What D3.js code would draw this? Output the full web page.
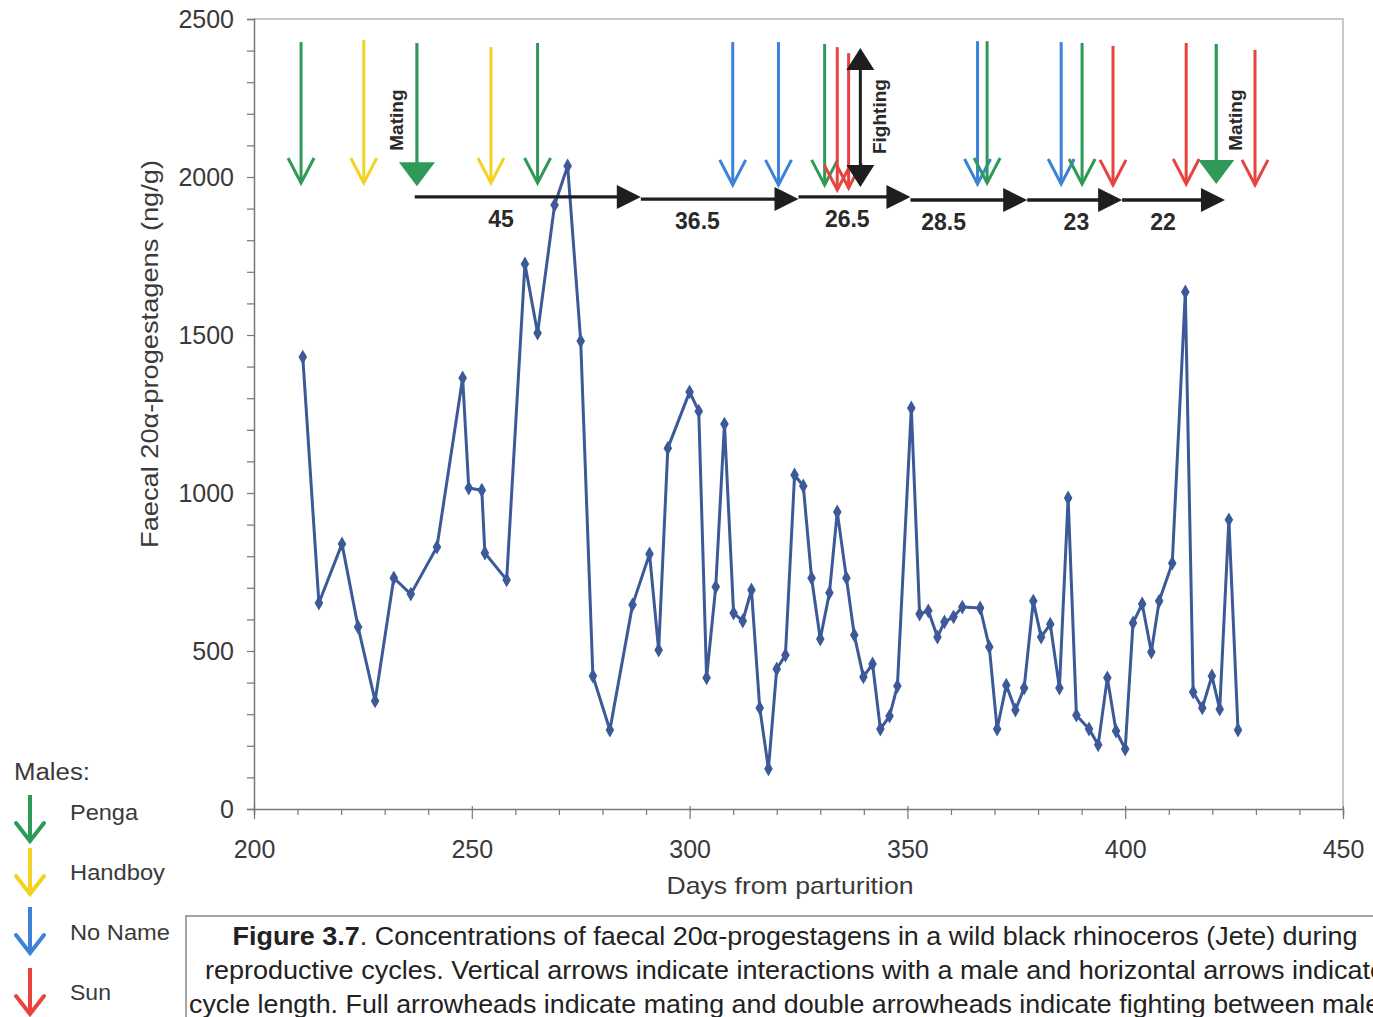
<!DOCTYPE html>
<html>
<head>
<meta charset="utf-8">
<script src="https://cdn.jsdelivr.net/npm/d3@7"></script>
<style>
  html, body { margin: 0; padding: 0; background: #fff; }
  svg { display: block; }
  text { font-family: "Liberation Sans", Arial, Helvetica, sans-serif; fill: #333; }
</style>
</head>
<body>
<svg id="chart" width="1373" height="1017"></svg>
<script>
// Faecal 20α-progestagen concentrations (ng/g) by day from parturition
const days = [211.2, 214.9, 220.2, 223.9, 227.8, 232.1, 236.0, 242.0, 247.9, 249.3,
  252.3, 253.0, 258.0, 262.2, 265.1, 269.0, 272.0, 275.0, 277.8, 281.7,
  286.9, 290.8, 292.9, 295.0, 300.0, 302.1, 303.9, 306.0, 308.0, 310.1,
  312.2, 314.2, 316.1, 318.1, 320.0, 322.0, 324.1, 326.1, 328.0, 330.0,
  332.1, 333.9, 336.0, 337.8, 339.9, 342.0, 343.8, 345.9, 347.7, 350.9,
  352.8, 354.8, 356.9, 358.5, 360.6, 362.6, 366.7, 368.8, 370.6, 372.7,
  374.8, 376.8, 378.9, 380.7, 382.8, 384.9, 386.9, 388.8, 391.7, 393.8,
  395.9, 397.9, 400.0, 401.8, 403.9, 406.0, 407.8, 410.8, 413.8, 415.6,
  417.7, 419.9, 421.7, 423.8, 425.9];
const progestagens = [1430, 652, 839, 576, 342, 731, 680, 829, 1364, 1016,
  1009, 810, 725, 1725, 1506, 1911, 2035, 1481, 421, 250,
  646, 807, 503, 1142, 1320, 1259, 415, 703, 1218, 620,
  595, 693, 320, 127, 443, 487, 1057, 1022, 731, 538,
  684, 940, 731, 551, 418, 459, 253, 294, 389, 1269,
  617, 627, 544, 592, 608, 639, 636, 513, 253, 392,
  313, 383, 658, 544, 585, 383, 984, 297, 253, 203,
  415, 247, 190, 589, 649, 497, 658, 778, 1636, 370,
  320, 421, 316, 915, 250];

// Male interactions: day, male, arrow top / tip (ng/g scale), mating
const arrowDays  = [210.8, 225.2, 237.4, 254.4, 265.1, 309.9, 320.4, 331.0, 333.9,
  336.5, 366.1, 368.3, 385.3, 390.1, 397.2, 414.0, 420.9, 429.8];
const arrowMales = ["Penga", "Handboy", "Penga", "Handboy", "Penga", "No Name", "No Name",
  "Penga", "Sun", "Sun", "No Name", "Penga", "No Name", "Penga", "Sun", "Sun", "Penga", "Sun"];
const arrowTops  = [2427, 2434, 2424, 2411, 2424, 2427, 2427, 2421, 2411,
  2392, 2430, 2430, 2427, 2424, 2415, 2424, 2421, 2402];
const arrowTips  = [1981, 1981, 1971, 1981, 1981, 1975, 1975, 1975, 1959,
  1965, 1978, 1981, 1978, 1978, 1975, 1978, 1978, 1975];
const arrowMating = [false, false, true, false, false, false, false, false, false,
  false, false, false, false, false, false, false, true, false];

// Fighting between males
const fightDay = 339.2, fightTop = 2408, fightBottom = 1968;

// Cycle lengths (days) shown as horizontal arrows
const cycleStart = [236.9, 288.8, 325.0, 350.7, 377.5, 399.3];
const cycleEnd   = [288.8, 325.0, 350.7, 377.5, 399.3, 422.9];
const cycleLevel = [1937, 1930, 1937, 1927, 1927, 1927];
const cycleLabels = ["45", "36.5", "26.5", "28.5", "23", "22"];
const cycleLabelDay = [256.7, 301.8, 336.2, 358.3, 388.8, 408.7];

const males = ["Penga", "Handboy", "No Name", "Sun"];
const maleColors = ["#2f9a57", "#f3d321", "#3b82d8", "#e8443f"];

const xTicks = [200, 250, 300, 350, 400, 450];
const yTicks = [0, 500, 1000, 1500, 2000, 2500];

const svg = d3.select("#chart");
const color = d3.scaleOrdinal().domain(males).range(maleColors);

const x = d3.scaleLinear().domain([200, 450]).range([254, 1343]);
const y = d3.scaleLinear().domain([0, 2500]).range([809, 19]);

// plot frame (top and right edges)
svg.append("path")
  .attr("d", `M${x(200)},${y(2500)}H${x(450)}V${y(0)}`)
  .attr("fill", "none").attr("stroke", "#b5b5b5").attr("stroke-width", 1.5);

// y axis: minor ticks every 100, labels every 500
const yAxisG = svg.append("g").attr("transform", `translate(${x(200)},0)`)
  .call(d3.axisLeft(y).tickValues(d3.range(0, 2501, 100)).tickSize(7)
    .tickFormat(d => yTicks.includes(d) ? d : ""));
yAxisG.select(".domain").attr("stroke", "#777").attr("stroke-width", 1.5);
yAxisG.selectAll(".tick line").attr("stroke", "#777").attr("stroke-width", 1.2);
yAxisG.selectAll(".tick text").attr("x", -20).attr("dy", "0.35em")
  .style("font-size", "25px").style("fill", "#3a3a3a");

// x axis: minor ticks every 10, labels every 50
const xAxisG = svg.append("g").attr("transform", `translate(0,${y(0)})`)
  .call(d3.axisBottom(x).tickValues(d3.range(200, 451, 10)).tickSize(6)
    .tickFormat(d => xTicks.includes(d) ? d : ""));
xAxisG.select(".domain").attr("stroke", "#777").attr("stroke-width", 1.5);
xAxisG.selectAll(".tick line").attr("stroke", "#777").attr("stroke-width", 1.2)
  .attr("y1", d => xTicks.includes(d) ? -3 : 0)
  .attr("y2", d => xTicks.includes(d) ? 10 : 6);
xAxisG.selectAll(".tick text").attr("y", 40).attr("dy", "0.35em")
  .style("font-size", "25px").style("fill", "#3a3a3a");

// axis titles
svg.append("text")
  .attr("transform", `translate(158,354) rotate(-90)`)
  .attr("text-anchor", "middle")
  .attr("textLength", 388).attr("lengthAdjust", "spacingAndGlyphs")
  .style("font-size", "24px").style("fill", "#3a3a3a")
  .text("Faecal 20α-progestagens (ng/g)");
svg.append("text")
  .attr("x", 790).attr("y", 894)
  .attr("text-anchor", "middle")
  .attr("textLength", 247).attr("lengthAdjust", "spacingAndGlyphs")
  .style("font-size", "24px").style("fill", "#3a3a3a")
  .text("Days from parturition");

// concentration series
const pts = days.map((d, i) => [d, progestagens[i]]);
svg.append("path")
  .datum(pts)
  .attr("fill", "none")
  .attr("stroke", "#3c5a98")
  .attr("stroke-width", 3)
  .attr("stroke-linejoin", "round")
  .attr("d", d3.line().x(d => x(d[0])).y(d => y(d[1])));
svg.append("g").selectAll("path")
  .data(pts).join("path")
  .attr("transform", d => `translate(${x(d[0])},${y(d[1])})`)
  .attr("d", d3.symbol(d3.symbolDiamond, 64))
  .attr("fill", "#3c5a98");

// vertical interaction arrows
const ag = svg.append("g");
arrowDays.forEach((d, i) => {
  const c = color(arrowMales[i]);
  const ax = x(d), top = y(arrowTops[i]), tip = y(arrowTips[i]);
  if (arrowMating[i]) {
    ag.append("line").attr("x1", ax).attr("x2", ax).attr("y1", top).attr("y2", tip - 20)
      .attr("stroke", c).attr("stroke-width", 3.2);
    ag.append("path")
      .attr("d", `M${ax - 18},${tip - 24}L${ax + 18},${tip - 24}L${ax},${tip}Z`)
      .attr("fill", c);
  } else {
    ag.append("line").attr("x1", ax).attr("x2", ax).attr("y1", top).attr("y2", tip)
      .attr("stroke", c).attr("stroke-width", 3);
    ag.append("path")
      .attr("d", `M${ax - 13},${tip - 25}L${ax},${tip}L${ax + 13},${tip - 25}`)
      .attr("fill", "none").attr("stroke", c).attr("stroke-width", 3)
      .attr("stroke-linejoin", "miter");
  }
});

// "Mating" labels beside the full arrowheads
arrowDays.forEach((d, i) => {
  if (!arrowMating[i]) return;
  const lx = i < 5 ? x(d) - 21 : x(d) + 19;
  svg.append("text")
    .attr("transform", `translate(${lx},${y(2180)}) rotate(-90)`)
    .attr("text-anchor", "middle").attr("dy", "0.35em")
    .style("font-size", "19px").style("font-weight", "bold").style("fill", "#2a2a2a")
    .text("Mating");
});

// fighting double arrow
const fx = x(fightDay), ft = y(fightTop), fb = y(fightBottom);
svg.append("line").attr("x1", fx).attr("x2", fx).attr("y1", ft + 18).attr("y2", fb - 18)
  .attr("stroke", "#1e1e1e").attr("stroke-width", 3);
svg.append("path").attr("d", `M${fx},${ft}L${fx + 14},${ft + 22}L${fx - 14},${ft + 22}Z`).attr("fill", "#1e1e1e");
svg.append("path").attr("d", `M${fx},${fb}L${fx + 14},${fb - 22}L${fx - 14},${fb - 22}Z`).attr("fill", "#1e1e1e");
svg.append("text")
  .attr("transform", `translate(${fx + 19},${(ft + fb) / 2 - 1}) rotate(-90)`)
  .attr("text-anchor", "middle").attr("dy", "0.35em")
  .style("font-size", "19px").style("font-weight", "bold").style("fill", "#2a2a2a")
  .text("Fighting");

// cycle length arrows
cycleStart.forEach((s, i) => {
  const x0 = x(s), x1 = x(cycleEnd[i]), yy = y(cycleLevel[i]);
  svg.append("line").attr("x1", x0).attr("x2", x1 - 18).attr("y1", yy).attr("y2", yy)
    .attr("stroke", "#1e1e1e").attr("stroke-width", 3.4);
  svg.append("path").attr("d", `M${x1},${yy}L${x1 - 24},${yy - 12}L${x1 - 24},${yy + 12}Z`)
    .attr("fill", "#1e1e1e");
  svg.append("text")
    .attr("x", x(cycleLabelDay[i])).attr("y", yy + 22).attr("dy", "0.35em")
    .attr("text-anchor", "middle")
    .style("font-size", "23px").style("font-weight", "bold").style("fill", "#2a2a2a")
    .text(cycleLabels[i]);
});

// legend of males
svg.append("text").attr("x", 14).attr("y", 780)
  .attr("textLength", 76).attr("lengthAdjust", "spacingAndGlyphs")
  .style("font-size", "23px").style("fill", "#3a3a3a").text("Males:");
const legendTop = [795, 848, 907, 968];
const legendLabelWidth = [68, 95, 100, 41];
males.forEach((m, i) => {
  const c = color(m), t = legendTop[i], tip = t + 46, lx = 30;
  svg.append("line").attr("x1", lx).attr("x2", lx).attr("y1", t).attr("y2", tip - 2)
    .attr("stroke", c).attr("stroke-width", 4);
  svg.append("path").attr("d", `M${lx - 14},${tip - 18}L${lx},${tip}L${lx + 14},${tip - 18}`)
    .attr("fill", "none").attr("stroke", c).attr("stroke-width", 4).attr("stroke-linecap", "round");
  svg.append("text").attr("x", 70).attr("y", 820 + 60 * i)
    .attr("textLength", legendLabelWidth[i]).attr("lengthAdjust", "spacingAndGlyphs")
    .style("font-size", "22px").style("fill", "#3a3a3a").text(m);
});

// figure caption box
svg.append("rect").attr("x", 186).attr("y", 916).attr("width", 1300).attr("height", 200)
  .attr("fill", "#fff").attr("stroke", "#888").attr("stroke-width", 1.5);
const capFont = '"Liberation Sans Narrow", "Arial Narrow", "Liberation Sans", Arial, sans-serif';
const cap1 = svg.append("text").attr("x", 795).attr("y", 945).attr("text-anchor", "middle")
  .attr("textLength", 1125).attr("lengthAdjust", "spacingAndGlyphs")
  .style("font-family", capFont).style("font-size", "25px").style("fill", "#222");
cap1.append("tspan").style("font-weight", "bold").text("Figure 3.7");
cap1.append("tspan").text(". Concentrations of faecal 20α-progestagens in a wild black rhinoceros (Jete) during");
svg.append("text").attr("x", 795).attr("y", 979).attr("text-anchor", "middle")
  .attr("textLength", 1180).attr("lengthAdjust", "spacingAndGlyphs")
  .style("font-family", capFont).style("font-size", "25px").style("fill", "#222")
  .text("reproductive cycles. Vertical arrows indicate interactions with a male and horizontal arrows indicate");
svg.append("text").attr("x", 795).attr("y", 1013).attr("text-anchor", "middle")
  .attr("textLength", 1212).attr("lengthAdjust", "spacingAndGlyphs")
  .style("font-family", capFont).style("font-size", "25px").style("fill", "#222")
  .text("cycle length. Full arrowheads indicate mating and double arrowheads indicate fighting between males.");
</script>
</body>
</html>
